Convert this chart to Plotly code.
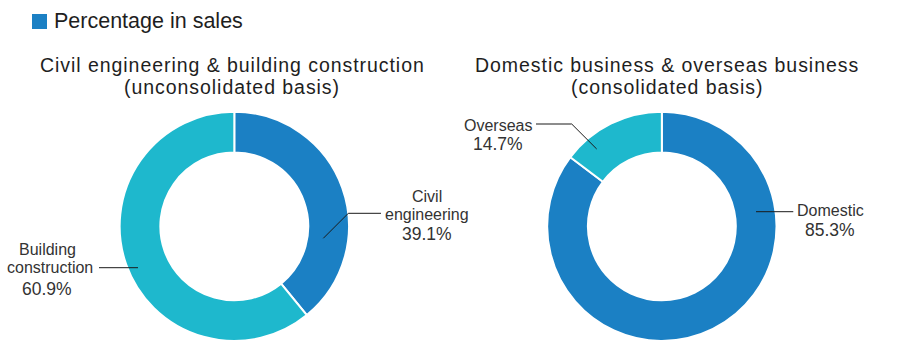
import plotly.graph_objects as go

# ---- data ----
left_labels = ["Civil engineering", "Building construction"]
left_values = [39.1, 60.9]
right_labels = ["Domestic", "Overseas"]
right_values = [85.3, 14.7]

BLUE = "#1b80c4"
CYAN = "#1eb8cd"
FONT = "Liberation Sans, Arial, sans-serif"
W, H = 900, 341


def px(x):
    return x / W


def py(y):
    return 1 - y / H


fig = go.Figure()

fig.add_trace(go.Pie(
    labels=left_labels, values=left_values,
    hole=0.645, sort=False, direction="clockwise", rotation=0,
    marker=dict(colors=[BLUE, CYAN], line=dict(color="white", width=2)),
    textinfo="none", hoverinfo="label+percent", showlegend=False,
    domain=dict(x=[px(119.3), px(349.3)], y=[0, py(111.7)]),
))
fig.add_trace(go.Pie(
    labels=right_labels, values=right_values,
    hole=0.645, sort=False, direction="clockwise", rotation=0,
    marker=dict(colors=[BLUE, CYAN], line=dict(color="white", width=2)),
    textinfo="none", hoverinfo="label+percent", showlegend=False,
    domain=dict(x=[px(546.7), px(777)], y=[0, py(111.7)]),
))

annotations = []


def text_line(s, cx, baseline, size, color="#333333"):
    annotations.append(dict(
        text=s, x=px(cx), y=py(baseline - 0.35 * size),
        xref="paper", yref="paper", xanchor="center", yanchor="middle",
        showarrow=False, font=dict(family=FONT, size=size, color=color),
    ))


NAME = 16
PCT = 17.5

# left donut labels
text_line("Civil", 427, 202, NAME)
text_line("engineering", 426.5, 220, NAME)
text_line(f"{left_values[0]}%", 427, 240, PCT)
text_line("Building", 47.5, 255.5, NAME)
text_line("construction", 49.5, 273, NAME)
text_line(f"{left_values[1]}%", 47, 295, PCT)

# right donut labels
text_line("Overseas", 497.5, 131, NAME)
text_line(f"{right_values[1]}%", 498, 150, PCT)
text_line("Domestic", 830.5, 216, NAME)
text_line(f"{right_values[0]}%", 830, 236, PCT)

# chart titles, slightly tracked out
TITLE = 19.5


def spaced(s):
    return f"<span style='letter-spacing:0.95px'>{s}</span>"


text_line(spaced("Civil engineering &amp; building construction"), 232.8, 72, TITLE, "#1e1e1e")
text_line(spaced("(unconsolidated basis)"), 232.2, 94, TITLE, "#1e1e1e")
text_line(spaced("Domestic business &amp; overseas business"), 667, 72, TITLE, "#1e1e1e")
text_line(spaced("(consolidated basis)"), 667, 94, TITLE, "#1e1e1e")

# legend key
annotations.append(dict(
    text="Percentage in sales", x=px(52), y=py(29 - 0.35 * 21.5),
    xref="paper", yref="paper", xanchor="left", yanchor="middle",
    showarrow=False, font=dict(family=FONT, size=21.5, color="#1e1e1e"),
))

shapes = [
    dict(type="rect", xref="paper", yref="paper",
         x0=px(32), x1=px(47), y0=py(29), y1=py(14),
         fillcolor=BLUE, line=dict(width=0)),
]


def leader(points):
    path = "M " + " L ".join(f"{px(x):.5f},{py(y):.5f}" for x, y in points)
    shapes.append(dict(type="path", path=path, xref="paper", yref="paper",
                       line=dict(color="#1a1a1a", width=1)))


leader([(323.3, 238.3), (348.3, 213.3), (381, 213.3)])
leader([(99, 267.7), (138, 267.7)])
leader([(536, 124), (571.7, 124), (596.7, 149)])
leader([(756, 211.7), (793.3, 211.7)])

fig.update_layout(
    width=W, height=H,
    margin=dict(l=0, r=0, t=0, b=0),
    paper_bgcolor="white", plot_bgcolor="white",
    annotations=annotations, shapes=shapes,
    showlegend=False,
)

fig.write_html("out.html")
